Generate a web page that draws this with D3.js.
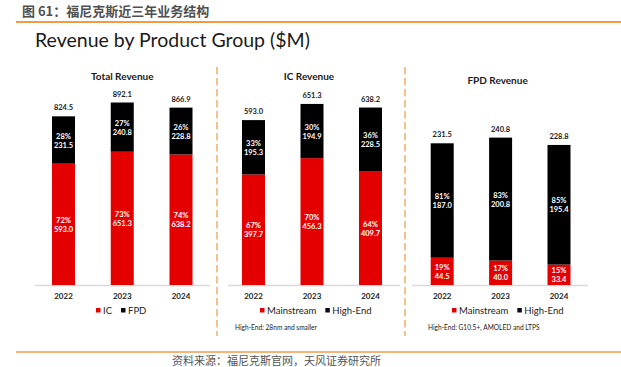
<!DOCTYPE html>
<html><head><meta charset="utf-8">
<script src="https://cdn.jsdelivr.net/npm/d3@7"></script>
<style>
html,body{margin:0;padding:0;background:#fff;}
svg{display:block;}
text{font-family:Lato,"Noto Sans",sans-serif;}
.cjk{font-family:"Noto Sans CJK SC",sans-serif;}
</style></head>
<body>
<script>
// ---- data ----
const years = ["2022", "2023", "2024"];
const totalIC = [593.0, 651.3, 638.2];
const totalFPD = [231.5, 240.8, 228.8];
const totalSum = [824.5, 892.1, 866.9];
const totalICPct = ["72%", "73%", "74%"];
const totalFPDPct = ["28%", "27%", "26%"];
const icMain = [397.7, 456.3, 409.7];
const icHigh = [195.3, 194.9, 228.5];
const icSum = [593.0, 651.3, 638.2];
const icMainPct = ["67%", "70%", "64%"];
const icHighPct = ["33%", "30%", "36%"];
const fpdMain = [44.5, 40.0, 33.4];
const fpdHigh = [187.0, 200.8, 195.4];
const fpdSum = [231.5, 240.8, 228.8];
const fpdMainPct = ["19%", "17%", "15%"];
const fpdHighPct = ["81%", "83%", "85%"];
const panelTitles = ["Total Revenue", "IC Revenue", "FPD Revenue"];
const legendLabels = [["IC", "FPD"], ["Mainstream", "High-End"], ["Mainstream", "High-End"]];
const footnotes = ["", "High-End: 28nm and smaller", "High-End: G10.5+, AMOLED and LTPS"];

const RED = "#e50000", BLACK = "#000000";
const W = 621, H = 367;
const svg = d3.select("body").append("svg").attr("width", W).attr("height", H);

// header
svg.append("text").attr("class", "cjk").attr("x", 22).attr("y", 16)
  .attr("font-size", 13).attr("font-weight", 700).attr("fill", "#505050")
  .text("图 61：福尼克斯近三年业务结构");
svg.append("line").attr("x1", 16).attr("x2", W).attr("y1", 22).attr("y2", 22)
  .attr("stroke", "#f39a4a").attr("stroke-width", 2);
svg.append("text").attr("x", 35).attr("y", 47).attr("font-size", 19.5).attr("fill", "#1a1a1a")
  .text("Revenue by Product Group ($M)");

// separators
[217, 405].forEach(x => {
  svg.append("line").attr("x1", x).attr("x2", x).attr("y1", 67).attr("y2", 336)
    .attr("stroke", "#f0b06a").attr("stroke-width", 1.5).attr("stroke-dasharray", "7.5,3.5");
});

const baseY = 285;
const barW = 23;
const panels = [
  { lower: totalIC, upper: totalFPD, sum: totalSum, lp: totalICPct, up: totalFPDPct,
    cx: [63.5, 181], axis: [35, 210], maxV: 892.1, maxY: 102.5, titleY: 80, legX: 96 },
  { lower: icMain, upper: icHigh, sum: icSum, lp: icMainPct, up: icHighPct,
    cx: [253.5, 370.5], axis: [228, 400], maxV: 651.3, maxY: 103.9, titleY: 80, legX: 260, noteX: 235 },
  { lower: fpdMain, upper: fpdHigh, sum: fpdSum, lp: fpdMainPct, up: fpdHighPct,
    cx: [442.2, 559], axis: [412, 588], maxV: 240.8, maxY: 137.6, titleY: 84, legX: 452, noteX: 428 }
];

panels.forEach((p, pi) => {
  const x = d3.scalePoint().domain(years).range(p.cx);
  const y = d3.scaleLinear().domain([0, p.maxV]).range([baseY, p.maxY]);
  const g = svg.append("g");

  // axis line
  g.append("line").attr("x1", p.axis[0]).attr("x2", p.axis[1]).attr("y1", baseY + 0.5).attr("y2", baseY + 0.5)
    .attr("stroke", "#d9d9d9").attr("stroke-width", 1.5);

  // title
  g.append("text").attr("x", x(years[1]) - (pi === 0 ? 0 : 3)).attr("y", p.titleY)
    .attr("text-anchor", "middle").attr("font-size", 10).attr("font-weight", 700).attr("fill", "#1a1a1a")
    .text(panelTitles[pi]);

  years.forEach((yr, i) => {
    const cx = x(yr);
    const lo = p.lower[i], up = p.upper[i];
    g.append("rect").attr("x", cx - barW / 2).attr("width", barW)
      .attr("y", y(lo)).attr("height", baseY - y(lo)).attr("fill", RED);
    g.append("rect").attr("x", cx - barW / 2).attr("width", barW)
      .attr("y", y(lo + up)).attr("height", y(lo) - y(lo + up)).attr("fill", BLACK);

    const lowMid = (baseY + y(lo)) / 2;
    const upMid = (y(lo) + y(lo + up)) / 2;
    [[lowMid, p.lp[i], lo], [upMid, p.up[i], up]].forEach(([m, pct, v]) => {
      g.append("text").attr("x", cx).attr("y", m - 1.5).attr("text-anchor", "middle")
        .attr("font-size", 7.5).attr("font-weight", 700).attr("fill", "#fff").text(pct);
      g.append("text").attr("x", cx).attr("y", m + 7.5).attr("text-anchor", "middle")
        .attr("font-size", 7.5).attr("font-weight", 700).attr("fill", "#fff").text(v.toFixed(1));
    });

    g.append("text").attr("x", cx).attr("y", y(p.sum[i]) - 6).attr("text-anchor", "middle")
      .attr("font-size", 7.5).attr("font-weight", 700).attr("fill", "#222").text(p.sum[i].toFixed(1));
    g.append("text").attr("x", cx).attr("y", 299).attr("text-anchor", "middle")
      .attr("font-size", 8).attr("font-weight", 700).attr("fill", "#222").text(yr);
  });

  // legend
  let lx = p.legX;
  legendLabels[pi].forEach((lab, k) => {
    g.append("rect").attr("x", lx).attr("y", 308).attr("width", 4.5).attr("height", 4.5)
      .attr("fill", k === 0 ? RED : "#0a0a1a");
    const t = g.append("text").attr("x", lx + 7).attr("y", 314).attr("font-size", 9.5).attr("fill", "#222").text(lab);
    lx += 7 + t.node().getComputedTextLength() + 9;
  });

  if (footnotes[pi]) {
    g.append("text").attr("x", p.noteX).attr("y", 330).attr("font-size", 6.6).attr("fill", "#222").text(footnotes[pi]);
  }
});

// bottom
svg.append("line").attr("x1", 16).attr("x2", W).attr("y1", 352).attr("y2", 352)
  .attr("stroke", "#f39a4a").attr("stroke-width", 1.5);
svg.append("text").attr("class", "cjk").attr("x", 172).attr("y", 365).attr("font-size", 11).attr("fill", "#555")
  .text("资料来源：福尼克斯官网，天风证券研究所");
</script>
</body></html>
